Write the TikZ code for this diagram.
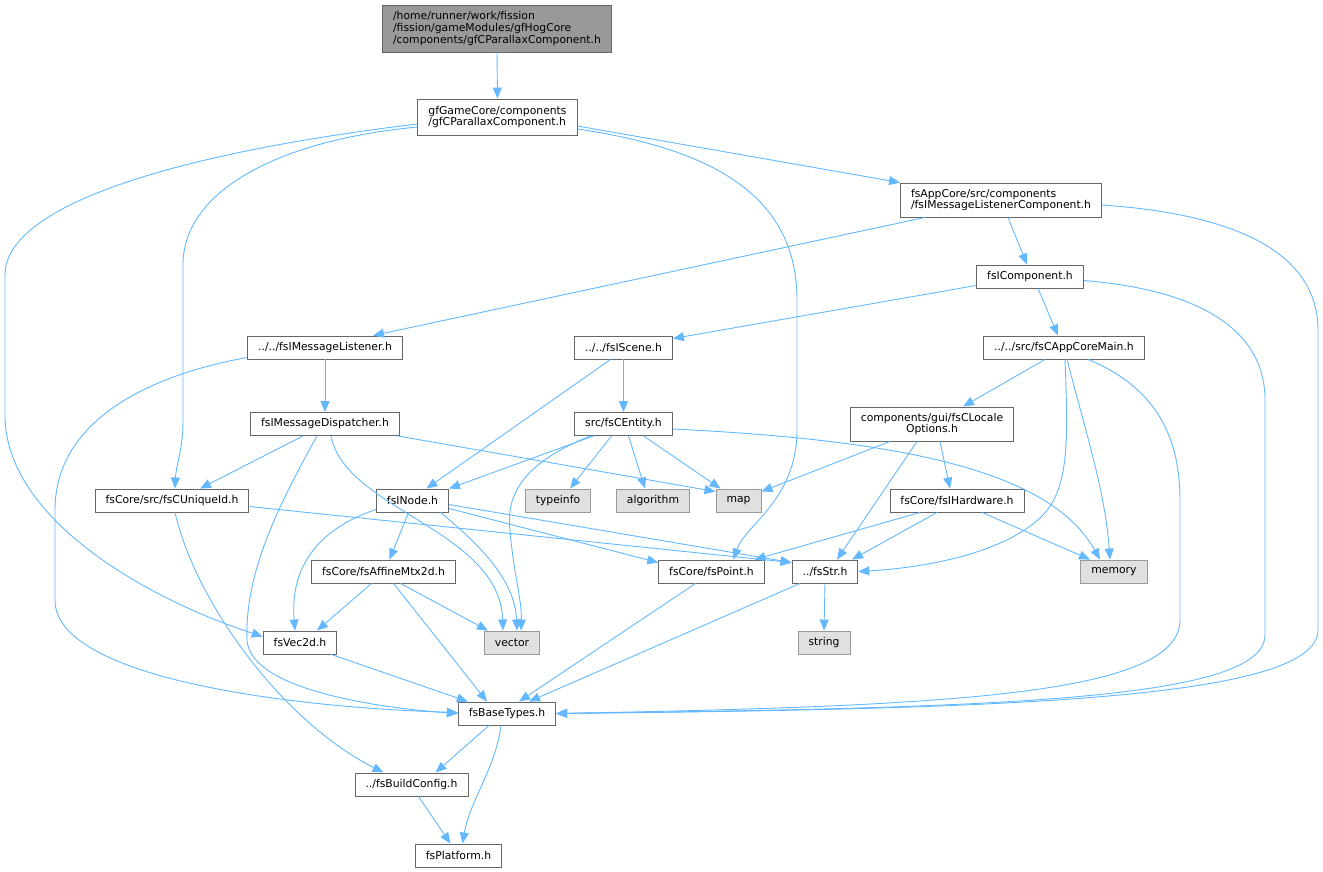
\documentclass[tikz,border=0pt]{standalone}
\usepackage{fontspec}
\newfontfamily\dvs{DejaVu Sans}
\usetikzlibrary{arrows.meta}
\definecolor{edgeblue}{HTML}{63B8FF}
\definecolor{boxgray}{HTML}{666666}
\definecolor{sysgray}{HTML}{999999}
\definecolor{sysfill}{HTML}{E0E0E0}
\definecolor{rootfill}{HTML}{999999}
\tikzset{
  edge/.style={draw=edgeblue, line width=0.9pt, -{Triangle[length=11pt,width=9pt]}},
  box/.style={draw=boxgray, fill=white, line width=0.9pt, inner xsep=10.5pt, inner ysep=2pt,
    minimum height=23pt, font=\dvs\fontsize{10.8}{11.7}\selectfont, align=center},
  sys/.style={box, draw=sysgray, fill=sysfill},
  rootbox/.style={box, fill=rootfill, draw=boxgray, align=left}
}
\begin{document}
\begin{tikzpicture}[x=1pt,y=-1pt]
\useasboundingbox (0,0) rectangle (1323,871);
% nodes
\node[rootbox, minimum height=47pt] (root) at (497,28.5) {/home/runner/work/fission\\/fission/gameModules/gfHogCore\\/components/gfCParallaxComponent.h};
\node[box, align=left, minimum height=36pt] (gfg) at (497.5,117) {gfGameCore/components\\/gfCParallaxComponent.h};
\node[box, align=left, minimum height=34pt] (mlc) at (1001,200) {fsAppCore/src/components\\/fsIMessageListenerComponent.h};
\node[box] (comp) at (1030,276.5) {fsIComponent.h};
\node[box] (ml) at (325,347.5) {../../fsIMessageListener.h};
\node[box] (scene) at (623.5,347.5) {../../fsIScene.h};
\node[box] (main) at (1064,347.5) {../../src/fsCAppCoreMain.h};
\node[box] (disp) at (325,424) {fsIMessageDispatcher.h};
\node[box] (entity) at (623.5,424) {src/fsCEntity.h};
\node[box, minimum height=34pt] (locale) at (932,424) {components/gui/fsCLocale\\Options.h};
\node[box] (uid) at (172,500.5) {fsCore/src/fsCUniqueId.h};
\node[box] (node) at (412.5,500.5) {fsINode.h};
\node[sys] (typeinfo) at (558,500.5) {typeinfo};
\node[sys] (algorithm) at (653,500.5) {algorithm};
\node[sys] (map) at (738.5,500.5) {map};
\node[box] (hw) at (957,500.5) {fsCore/fsIHardware.h};
\node[box] (aff) at (383.5,571.5) {fsCore/fsAffineMtx2d.h};
\node[box] (point) at (711.5,571.5) {fsCore/fsPoint.h};
\node[box] (str) at (825,571.5) {../fsStr.h};
\node[sys] (memory) at (1114,571.5) {memory};
\node[box] (vec2d) at (300,642.5) {fsVec2d.h};
\node[sys] (vector) at (512,642.5) {vector};
\node[sys] (string) at (824,642.5) {string};
\node[box] (base) at (507,713.5) {fsBaseTypes.h};
\node[box] (build) at (411.5,784.5) {../fsBuildConfig.h};
\node[box] (platform) at (458.5,855.5) {fsPlatform.h};
% edges
\draw[edge] (root.south) -- (gfg.north);
\draw[edge] ([yshift=-9pt]gfg.east) -- (mlc.north west);
\draw[edge] ([yshift=-7pt]gfg.west) .. controls (200,150) and (5,200) .. (5,275) -- (5,415) .. controls (5,520) and (150,600) .. ([yshift=-6pt]vec2d.north west);
\draw[edge] ([yshift=-10pt]gfg.west) .. controls (280,140) and (183,190) .. (183,265) -- (183,420) .. controls (183,450) and (176,465) .. ([xshift=3pt]uid.north);
\draw[edge] ([yshift=-12pt]gfg.east) .. controls (720,150) and (797,200) .. (797,300) -- (797,430) .. controls (797,500) and (745,525) .. ([xshift=22pt]point.north);
\draw[edge] ([xshift=-76pt]mlc.south) -- ([xshift=48pt]ml.north);
\draw[edge] ([xshift=7pt]mlc.south) -- ([xshift=-3pt]comp.north);
\draw[edge] ([yshift=-5pt]mlc.east) .. controls (1250,215) and (1318,260) .. (1318,330) -- (1318,630) .. controls (1318,700) and (1000,709) .. (base.east);
\draw[edge] ([yshift=3pt]comp.south west) -- ([yshift=-3pt]scene.north east);
\draw[edge] ([xshift=8pt]comp.south) -- ([xshift=-6pt]main.north);
\draw[edge] ([yshift=-4pt]comp.east) .. controls (1200,290) and (1265,330) .. (1265,400) -- (1265,635) .. controls (1265,700) and (1000,708) .. (base.east);
\draw[edge] (ml.south) -- (disp.north);
\draw[edge] ([yshift=2pt]ml.south west) .. controls (150,375) and (55,420) .. (55,510) -- (55,600) .. controls (55,680) and (300,708) .. ([yshift=1pt]base.west);
\draw[edge] (scene.south) -- (entity.north);
\draw[edge] ([xshift=-13pt]scene.south) -- ([xshift=14pt]node.north);
\draw[edge] ([xshift=-19pt]main.south) -- ([xshift=31pt]locale.north);
\draw[edge] ([xshift=3pt]main.south) .. controls (1085,430) and (1105,490) .. ([xshift=-4pt]memory.north);
\draw[edge] ([xshift=1pt]main.south) .. controls (1068,440) and (1070,490) .. (1040,518) .. controls (1000,555) and (920,568) .. (str.east);
\draw[edge] ([xshift=24pt]main.south) .. controls (1150,385) and (1180,430) .. (1180,500) -- (1180,620) .. controls (1180,695) and (950,706) .. (base.east);
\draw[edge] ([xshift=-22pt]disp.south) -- ([xshift=28pt]uid.north);
\draw[edge] ([xshift=-2pt]disp.south east) -- ([yshift=-3pt]map.north west);
\draw[edge] ([xshift=6pt]disp.south) .. controls (345,510) and (500,530) .. ([xshift=-9pt]vector.north);
\draw[edge] ([xshift=-8pt]disp.south) .. controls (270,520) and (245,580) .. (247,640) .. controls (250,690) and (380,708) .. (base.west);
\draw[edge] ([xshift=-30pt]entity.south) -- (node.north east);
\draw[edge] ([xshift=-12pt]entity.south) -- ([xshift=12pt]typeinfo.north);
\draw[edge] ([xshift=5pt]entity.south) -- ([xshift=-8pt]algorithm.north);
\draw[edge] ([xshift=20pt]entity.south) -- ([xshift=-18pt]map.north);
\draw[edge] ([xshift=-33pt]entity.south) .. controls (530,460) and (505,490) .. (510,530) .. controls (513,570) and (522,600) .. ([xshift=9pt]vector.north);
\draw[edge] ([yshift=-5pt]entity.east) .. controls (900,440) and (1050,470) .. ([xshift=-14pt]memory.north);
\draw[edge] ([xshift=-42pt]locale.south) -- ([yshift=-3pt]map.north east);
\draw[edge] ([xshift=8pt]locale.south) -- ([xshift=-7pt]hw.north);
\draw[edge] ([xshift=-15pt]locale.south) -- ([xshift=12pt]str.north);
\draw[edge] ([yshift=-6pt]uid.east) -- ([yshift=-3pt]str.north west);
\draw[edge] ([xshift=3pt]uid.south) .. controls (195,600) and (280,720) .. ([xshift=-28pt]build.north);
\draw[edge] ([xshift=-4pt]node.south) -- ([xshift=6pt]aff.north);
\draw[edge] ([yshift=-8pt]node.east) -- ([yshift=-3pt]point.north west);
\draw[edge] ([yshift=-4pt]node.east) -- ([yshift=-3pt]str.north west);
\draw[edge] ([yshift=3pt]node.south west) .. controls (315,530) and (290,570) .. ([xshift=-5pt]vec2d.north);
\draw[edge] ([xshift=28pt]node.south) .. controls (480,545) and (515,580) .. ([xshift=5pt]vector.north);
\draw[edge] ([xshift=-37pt]hw.south) -- ([xshift=43pt]point.north);
\draw[edge] ([xshift=-20pt]hw.south) -- ([xshift=27pt]str.north);
\draw[edge] ([xshift=25pt]hw.south) -- ([xshift=-24pt]memory.north);
\draw[edge] ([xshift=-12pt]aff.south) -- ([xshift=17pt]vec2d.north);
\draw[edge] ([xshift=17pt]aff.south) -- ([xshift=-24pt]vector.north);
\draw[edge] ([xshift=10pt]aff.south) -- ([xshift=-20pt]base.north);
\draw[edge] ([xshift=-16pt]point.south) -- ([xshift=12pt]base.north);
\draw[edge] ([xshift=-25pt]str.south) -- ([xshift=22pt]base.north);
\draw[edge] (str.south) -- (string.north);
\draw[edge] ([xshift=-6pt]vec2d.south east) -- ([xshift=10pt]base.north west);
\draw[edge] ([xshift=-18pt]base.south) -- ([xshift=24pt]build.north);
\draw[edge] ([xshift=-6pt]base.south) .. controls (495,770) and (470,800) .. ([xshift=4pt]platform.north);
\draw[edge] ([xshift=7pt]build.south) -- ([xshift=-8pt]platform.north);
\end{tikzpicture}
\end{document}
